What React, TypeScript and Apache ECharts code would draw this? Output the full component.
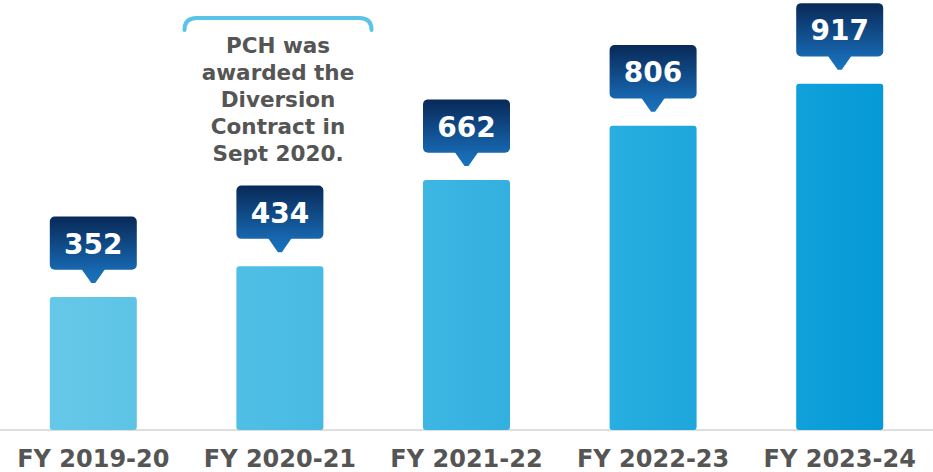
import React, { useEffect, useRef } from "react";
import * as echarts from "echarts";

const categories = ["FY 2019-20", "FY 2020-21", "FY 2021-22", "FY 2022-23", "FY 2023-24"];
const values = [352, 434, 662, 806, 917];
const annotationLines = ["PCH was", "awarded the", "Diversion", "Contract in", "Sept 2020."];

const barColors: [string, string][] = [
  ["#66c8e9", "#5dc4e6"],
  ["#50bfe5", "#47bae3"],
  ["#3db6e2", "#33b0e0"],
  ["#28aee0", "#1ea7dc"],
  ["#10a1db", "#0599d6"],
];

const FONT = '"DejaVu Sans", "Open Sans", sans-serif';

echarts.graphic.registerShape(
  "bracket",
  echarts.graphic.extendPath(
    "M184.5 30 C184.5 22 188.5 18 196.5 18 L359.5 18 C367.5 18 371.5 22 371.5 30",
    {}
  ) as any
);

export default function App() {
  const ref = useRef<HTMLDivElement>(null);

  useEffect(() => {
    if (!ref.current) return;
    const chart = echarts.init(ref.current, undefined, { renderer: "svg" });

    const option: any = {
      animation: false,
      backgroundColor: "#ffffff",
      grid: { left: -3.2, right: -1.1, top: 52.5, bottom: 42, containLabel: false },
      xAxis: {
        type: "category",
        data: categories,
        axisTick: { show: false },
        axisLine: { lineStyle: { color: "#dedede", width: 2 } },
        axisLabel: {
          interval: 0,
          hideOverlap: false,
          color: "#555555",
          fontSize: 24,
          fontWeight: "bold",
          fontFamily: FONT,
          margin: 17,
        },
      },
      yAxis: { type: "value", min: 0, max: 1000, show: false, splitLine: { show: false } },
      series: [
        {
          type: "bar",
          barWidth: 87,
          data: values.map((v, i) => ({
            value: v,
            itemStyle: {
              color: new echarts.graphic.LinearGradient(0, 0, 1, 0, [
                { offset: 0, color: barColors[i][0] },
                { offset: 1, color: barColors[i][1] },
              ]),
              borderRadius: 3,
            },
          })),
        },
        {
          type: "custom",
          clip: false,
          silent: true,
          data: values.map((v, i) => [i, v]),
          renderItem: (params: any, api: any) => {
            const idx = api.value(0);
            const val = api.value(1);
            const [cx, top] = api.coord([idx, val]);
            const half = 43.5;
            const boxTop = top - 80.7;
            const boxBottom = top - 27.3;
            return {
              type: "group",
              children: [
                {
                  type: "polygon",
                  shape: {
                    points: [
                      [cx - 12, boxBottom - 1],
                      [cx + 12, boxBottom - 1],
                      [cx + 2, top - 14],
                      [cx - 2, top - 14],
                    ],
                  },
                  style: {
                    fill: new echarts.graphic.LinearGradient(0, 0, 0, 1, [
                      { offset: 0, color: "#1767b0" },
                      { offset: 1, color: "#1a72bb" },
                    ]),
                  },
                },
                {
                  type: "rect",
                  shape: { x: cx - half, y: boxTop, width: half * 2, height: boxBottom - boxTop, r: 5 },
                  style: {
                    fill: new echarts.graphic.LinearGradient(0, 0, 0, 1, [
                      { offset: 0, color: "#082957" },
                      { offset: 1, color: "#1767b0" },
                    ]),
                  },
                },
                {
                  type: "text",
                  style: {
                    text: String(val),
                    x: cx,
                    y: (boxTop + boxBottom) / 2 + 1,
                    align: "center",
                    verticalAlign: "middle",
                    fill: "#ffffff",
                    fontSize: 28,
                    fontWeight: "bold",
                    fontFamily: FONT,
                  },
                },
              ],
            };
          },
        },
      ],
      graphic: [
        {
          type: "bracket",
          x: 0,
          y: 0,
          style: { fill: "none", stroke: "#5bc3e8", lineWidth: 4, lineCap: "round" },
        },
        {
          type: "text",
          x: 278,
          y: 32,
          style: {
            text: annotationLines.join("\n"),
            align: "center",
            verticalAlign: "top",
            fill: "#555555",
            fontSize: 21.5,
            fontWeight: "bold",
            fontFamily: FONT,
            lineHeight: 27,
          },
        },
      ],
    };

    chart.setOption(option);
    return () => chart.dispose();
  }, []);

  return (
    <div
      ref={ref}
      style={{ position: "absolute", left: 0, top: 0, width: 933, height: 472, background: "#fff" }}
    />
  );
}
